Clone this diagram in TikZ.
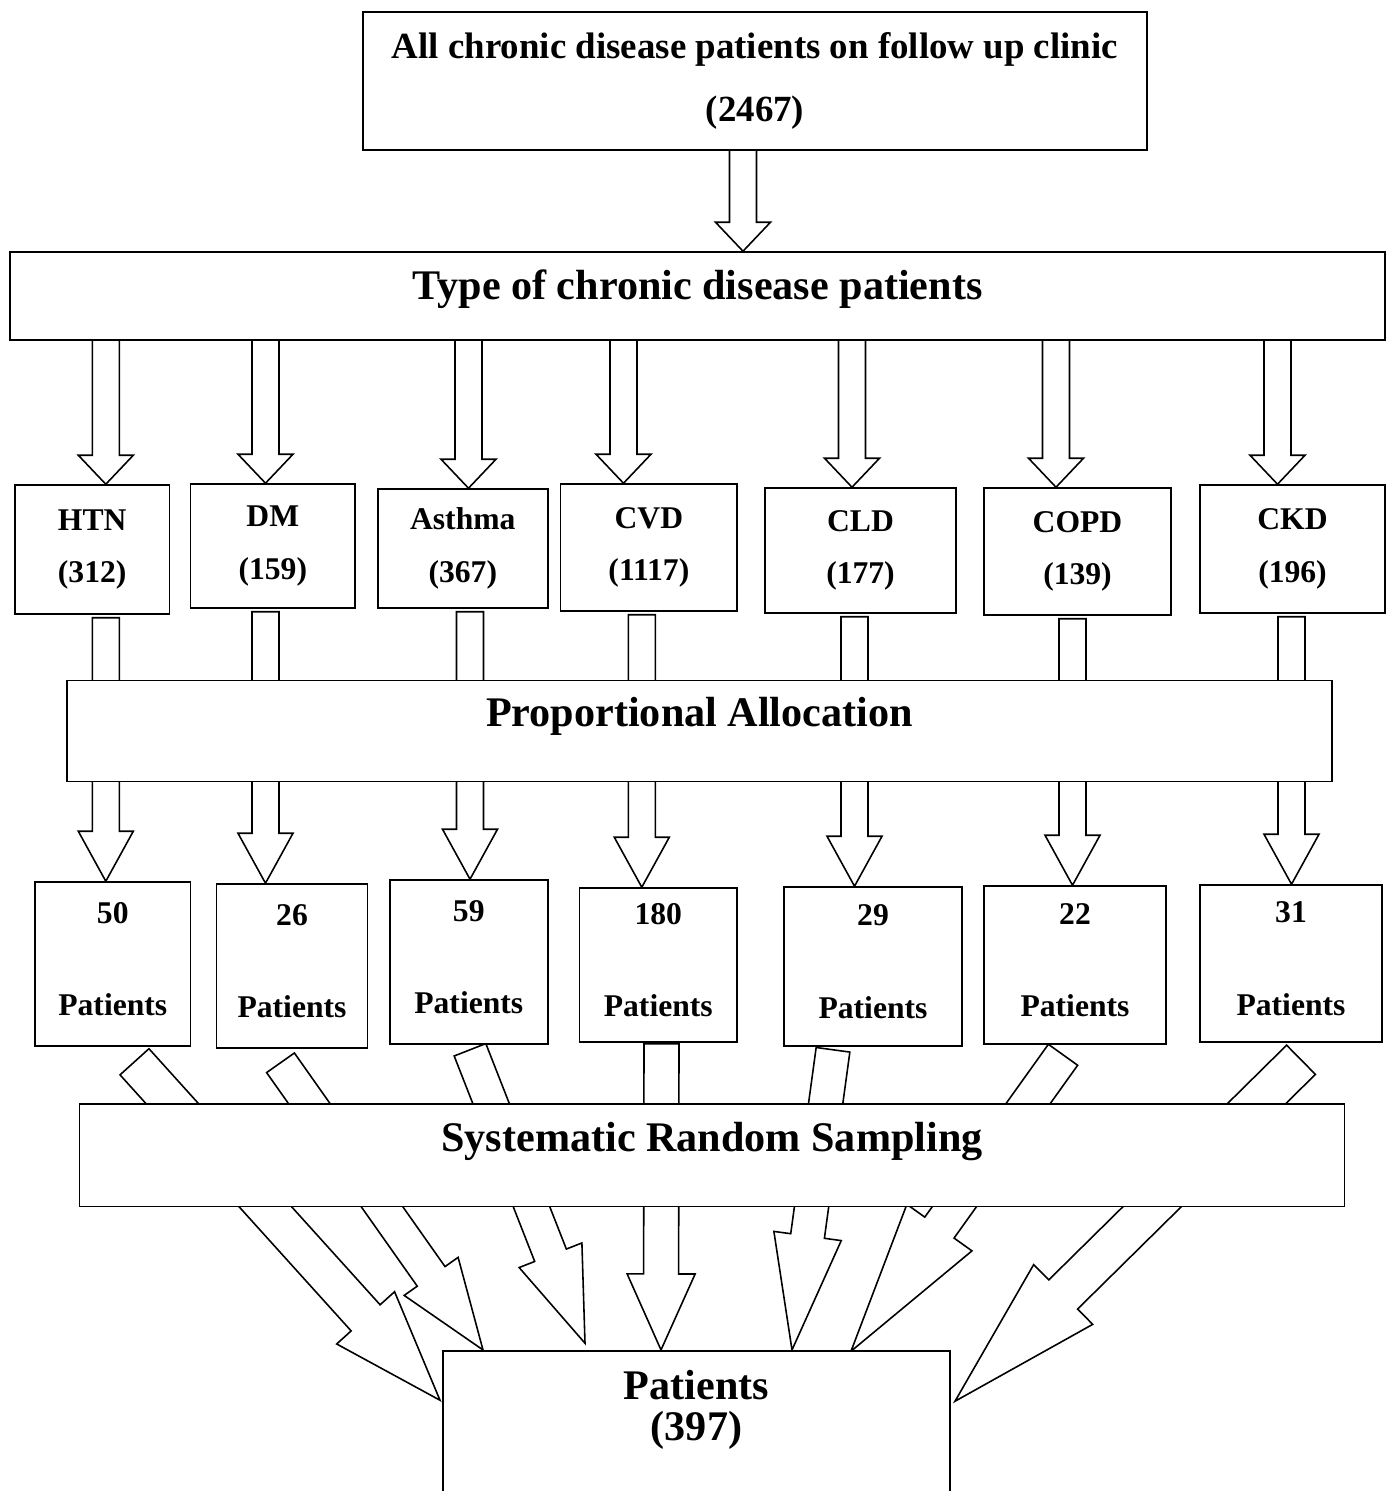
\documentclass[tikz,border=0pt]{standalone}
\usepackage{fontspec}
\setmainfont{Liberation Serif}
\usetikzlibrary{calc}
\pgfdeclarelayer{background}
\pgfsetlayers{background,main}
\tikzstyle{box}=[draw,line width=0.9pt,fill=white,inner sep=0pt,align=center]
\tikzstyle{top box}=[box,font=\bfseries\fontsize{21}{35.7}\selectfont]
\tikzstyle{disease box}=[box,font=\bfseries\fontsize{18}{30}\selectfont]
\tikzstyle{sample box}=[box,font=\bfseries\fontsize{18}{52.4}\selectfont,text depth=5.7pt]
\tikzstyle{wide box}=[box]
\tikzstyle{wide text}=[font=\bfseries\fontsize{24}{23}\selectfont,align=center]
\tikzstyle{block}=[draw,line width=0.9pt,fill=white,line join=miter]
% block arrow: start, tip, half shaft, half head, head length (in px)
\newcommand{\blockarrow}[5]{%
  \coordinate (ba-base) at ($(#2)!#5*0.02cm!(#1)$);
  \draw[block] ($(#1)!#3*0.02cm!90:(#2)$) -- ($(ba-base)!#3*0.02cm!90:(#2)$)
    -- ($(ba-base)!#4*0.02cm!90:(#2)$) -- (#2)
    -- ($(ba-base)!#4*0.02cm!-90:(#2)$) -- ($(ba-base)!#3*0.02cm!-90:(#2)$)
    -- ($(#1)!#3*0.02cm!-90:(#2)$) -- cycle;
}
\begin{document}
\begin{tikzpicture}[x=0.02cm,y=-0.02cm]
          \useasboundingbox (0,0) rectangle (1395,1491);
          \clip (0,0) rectangle (1395,1491);
          \node[top box,minimum width=15.68cm,minimum height=2.76cm] (all) at (755,81) {All chronic disease patients on follow up clinic\\(2467)};
          \node[wide box,minimum width=27.5cm,minimum height=1.76cm,label={[wide text,yshift=0.13cm]center:Type of chronic disease patients}] (type) at (697.5,296) {};
          \node[disease box,minimum width=3.1cm,minimum height=2.58cm] (htn) at (92.2,549.5) {HTN\\(312)};
          \node[disease box,minimum width=3.29cm,minimum height=2.48cm] (dm) at (272.8,546) {DM\\(159)};
          \node[disease box,minimum width=3.4cm,minimum height=2.38cm] (asthma) at (462.8,548.5) {Asthma\\(367)};
          \node[disease box,minimum width=3.53cm,minimum height=2.54cm] (cvd) at (648.9,547.5) {CVD\\(1117)};
          \node[disease box,minimum width=3.82cm,minimum height=2.5cm] (cld) at (860.5,550.5) {CLD\\(177)};
          \node[disease box,minimum width=3.74cm,minimum height=2.54cm] (copd) at (1077.5,551.5) {COPD\\(139)};
          \node[disease box,minimum width=3.7cm,minimum height=2.56cm] (ckd) at (1292.5,549) {CKD\\(196)};
          \node[wide box,minimum width=25.3cm,minimum height=2.02cm,label={[wide text,yshift=0.3cm]center:Proportional Allocation}] (pa) at (699.5,731) {};
          \node[sample box,minimum width=3.11cm,minimum height=3.28cm] (p50) at (112.8,964) {50\\Patients};
          \node[sample box,minimum width=3.02cm,minimum height=3.28cm] (p26) at (292,966) {26\\Patients};
          \node[sample box,minimum width=3.16cm,minimum height=3.28cm] (p59) at (468.8,962) {59\\Patients};
          \node[sample box,minimum width=3.15cm,minimum height=3.08cm] (p180) at (658.3,965) {180\\Patients};
          \node[sample box,minimum width=3.56cm,minimum height=3.18cm] (p29) at (873,966.5) {29\\Patients};
          \node[sample box,minimum width=3.64cm,minimum height=3.16cm] (p22) at (1075,965) {22\\Patients};
          \node[sample box,minimum width=3.64cm,minimum height=3.14cm] (p31) at (1291,963.5) {31\\Patients};
          \node[wide box,minimum width=25.3cm,minimum height=2.05cm,label={[wide text,yshift=0.28cm]center:Systematic Random Sampling}] (srs) at (712,1155.3) {};
          \node[wide box,minimum width=10.14cm,minimum height=2.886cm,label={[wide text,yshift=0.257cm]center:Patients\\(397)}] (total) at (696.5,1422.85) {};

          \begin{pgfonlayer}{background}
          % population to types
          \coordinate (from-all) at ($(all.center)+(-12,0)$);
          \coordinate (to-all) at (from-all |- type.north);
          \blockarrow{from-all}{to-all}{13.5}{27.5}{29}
          % types to diseases
          \foreach \n/\dx in {htn/13.6,dm/-7.3,asthma/5.7,cvd/-25.4,cld/-8.5,copd/-21.5,ckd/-15}{
            \coordinate (tip-\n) at ($(\n.north)+(\dx,0)$);
            \coordinate (src-\n) at (tip-\n |- type.center);
            \blockarrow{src-\n}{tip-\n}{13.5}{27.5}{29}
          }
          % diseases to samples, behind the allocation box
          \foreach \n/\p/\dx in {htn/p50/13.6,dm/p26/-7.3,asthma/p59/7.2,cvd/p180/-7.1,cld/p29/-6,copd/p22/-5,ckd/p31/-1}{
            \coordinate (from-\n) at ($(\n.south)+(\dx,3)$);
            \coordinate (to-\n) at (from-\n |- \p.north);
            \blockarrow{from-\n}{to-\n}{13.5}{27.5}{50}
          }
          % samples to total, behind the sampling box
          \foreach \p/\sx/\sy/\tx/\ty/\sh/\hh/\hl in {p50/21.7/15/-256.5/50.3/19.5/39/111,p26/-11.5/14/-213.5/0/17/33/90,p59/1.2/5/-111.5/-6.7/17/33.7/94.5,p180/3.2/1/-35.5/0/17.5/34/76,p29/-40/3/95.5/0/17/34/115,p22/-12/10/154.5/1.3/18/40/152,p31/10/17/258.5/51.3/20.5/42/152}{
            \coordinate (from-\p) at ($(\p.south)+(\sx,\sy)$);
            \coordinate (to-\p) at ($(total.north)+(\tx,\ty)$);
            \blockarrow{from-\p}{to-\p}{\sh}{\hh}{\hl}
          }
          \end{pgfonlayer}
\end{tikzpicture}
\end{document}
